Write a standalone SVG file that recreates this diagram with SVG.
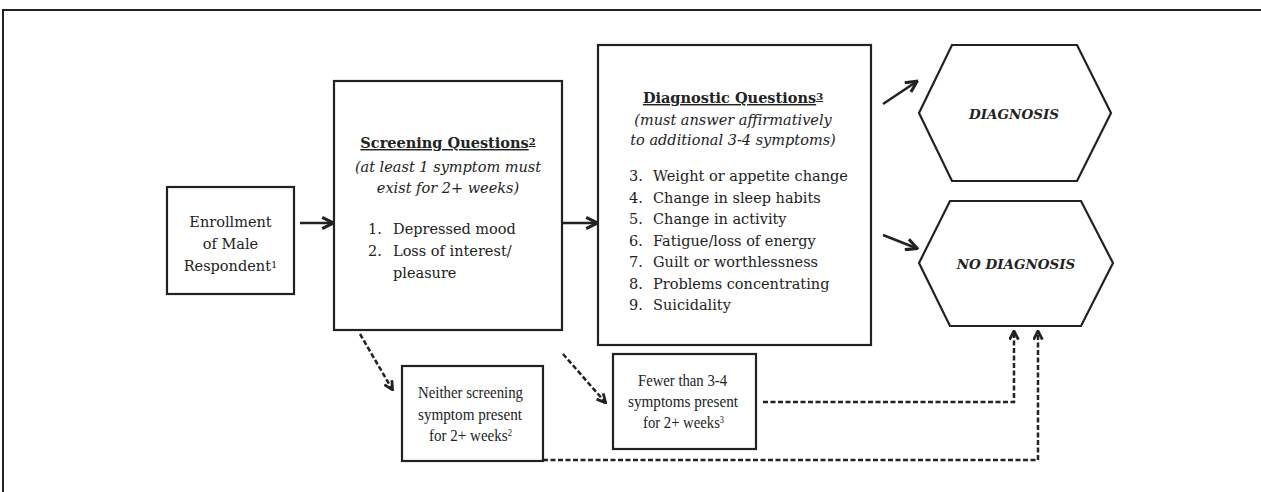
<svg xmlns="http://www.w3.org/2000/svg" width="1261" height="492" viewBox="0 0 1261 492">
<style>
.box{fill:#fff;stroke:#222;stroke-width:2.2}
.t{font-family:"DejaVu Serif","Liberation Serif",serif;fill:#222}
.n{font-family:"Liberation Serif","DejaVu Serif",serif;fill:#222;font-size:17.5px}
.c{text-anchor:middle}
.solid{fill:none;stroke:#222;stroke-width:2.5}
.dash{fill:none;stroke:#222;stroke-width:2.5;stroke-dasharray:5 2.5}
.sup{font-size:10px}
</style>
<defs>
<marker id="ahs" viewBox="0 0 10 10" refX="8" refY="5" markerWidth="14" markerHeight="14" orient="auto" markerUnits="userSpaceOnUse">
<path d="M1,1 L9,5 L1,9" fill="none" stroke="#222" stroke-width="2.2"/>
</marker>
<marker id="ahd" viewBox="0 0 10 10" refX="8" refY="5" markerWidth="11" markerHeight="11" orient="auto" markerUnits="userSpaceOnUse">
<path d="M1,1 L9,5 L1,9" fill="none" stroke="#222" stroke-width="2.5"/>
</marker>
</defs>
<rect width="1261" height="492" fill="#fff"/>
<path d="M3,492 V10 H1261" fill="none" stroke="#222" stroke-width="2"/>

<g id="connectors">
<line class="solid" x1="300" y1="223" x2="332" y2="223" marker-end="url(#ahs)"/>
<line class="solid" x1="563" y1="223" x2="596" y2="223" marker-end="url(#ahs)"/>
<line class="solid" x1="883" y1="104" x2="916" y2="82" marker-end="url(#ahs)"/>
<line class="solid" x1="883" y1="235" x2="916" y2="248" marker-end="url(#ahs)"/>
<line class="dash" x1="360" y1="334" x2="392" y2="389" marker-end="url(#ahd)"/>
<line class="dash" x1="563" y1="354" x2="605" y2="402" marker-end="url(#ahd)"/>
<path class="dash" d="M763,402 H1014 V332" marker-end="url(#ahd)"/>
<path class="dash" d="M543,460 H1038 V332" marker-end="url(#ahd)"/>
</g>

<g id="enrollment">
<rect class="box" x="167" y="187" width="127" height="107"/>
<text class="t c" font-size="14.5" x="230.5"><tspan x="230.5" y="227">Enrollment</tspan><tspan x="230.5" y="249">of Male</tspan><tspan x="230.5" y="271">Respondent<tspan class="sup" dy="-3">1</tspan></tspan></text>
</g>

<g id="screening">
<rect class="box" x="334" y="81" width="228" height="249"/>
<text class="t c" font-size="14.5" font-weight="bold" x="448" y="148" text-decoration="underline">Screening Questions<tspan class="sup" dy="-3">2</tspan></text>
<text class="t c" font-size="14.5" font-style="italic" x="448"><tspan x="448" y="172">(at least 1 symptom must</tspan><tspan x="448" y="193">exist for 2+ weeks)</tspan></text>
<text class="t" font-size="14.5"><tspan x="368" y="234">1.</tspan><tspan x="393" y="234">Depressed mood</tspan><tspan x="368" y="256">2.</tspan><tspan x="393" y="256">Loss of interest/</tspan><tspan x="393" y="278">pleasure</tspan></text>
</g>

<g id="diagnostic">
<rect class="box" x="598" y="45" width="273" height="300"/>
<text class="t c" font-size="14.5" font-weight="bold" x="733" y="103" text-decoration="underline">Diagnostic Questions<tspan class="sup" dy="-3">3</tspan></text>
<text class="t c" font-size="14.5" font-style="italic" x="733"><tspan x="733" y="125">(must answer affirmatively</tspan><tspan x="733" y="145">to additional 3-4 symptoms)</tspan></text>
<text class="t" font-size="14.5">
<tspan x="629" y="181">3.</tspan><tspan x="653" y="181">Weight or appetite change</tspan>
<tspan x="629" y="203">4.</tspan><tspan x="653" y="203">Change in sleep habits</tspan>
<tspan x="629" y="224">5.</tspan><tspan x="653" y="224">Change in activity</tspan>
<tspan x="629" y="246">6.</tspan><tspan x="653" y="246">Fatigue/loss of energy</tspan>
<tspan x="629" y="267">7.</tspan><tspan x="653" y="267">Guilt or worthlessness</tspan>
<tspan x="629" y="289">8.</tspan><tspan x="653" y="289">Problems concentrating</tspan>
<tspan x="629" y="310">9.</tspan><tspan x="653" y="310">Suicidality</tspan>
</text>
</g>

<g id="diagnosis">
<polygon class="box" points="952,45 1077,45 1111,113 1077,181 952,181 919,113"/>
<text class="t c" font-size="13.5" font-weight="bold" font-style="italic" x="1014" y="119">DIAGNOSIS</text>
</g>

<g id="no-diagnosis">
<polygon class="box" points="950,201 1081,201 1113,263 1081,326 950,326 919,263"/>
<text class="t c" font-size="13.5" font-weight="bold" font-style="italic" x="1016" y="269">NO DIAGNOSIS</text>
</g>

<g id="neither">
<rect class="box" x="402" y="366" width="141" height="95"/>
<text class="n" x="418" y="398" textLength="105" lengthAdjust="spacingAndGlyphs">Neither screening</text>
<text class="n" x="418" y="420" textLength="104" lengthAdjust="spacingAndGlyphs">symptom present</text>
<text class="n" transform="translate(429,441) scale(0.86,1)">for 2+ weeks<tspan class="sup" dy="-5">2</tspan></text>
</g>

<g id="fewer">
<rect class="box" x="613" y="354" width="143" height="95"/>
<text class="n" x="638" y="386" textLength="89" lengthAdjust="spacingAndGlyphs">Fewer than 3-4</text>
<text class="n" x="628" y="407" textLength="110" lengthAdjust="spacingAndGlyphs">symptoms present</text>
<text class="n" transform="translate(643,428) scale(0.84,1)">for 2+ weeks<tspan class="sup" dy="-5">3</tspan></text>
</g>
</svg>
